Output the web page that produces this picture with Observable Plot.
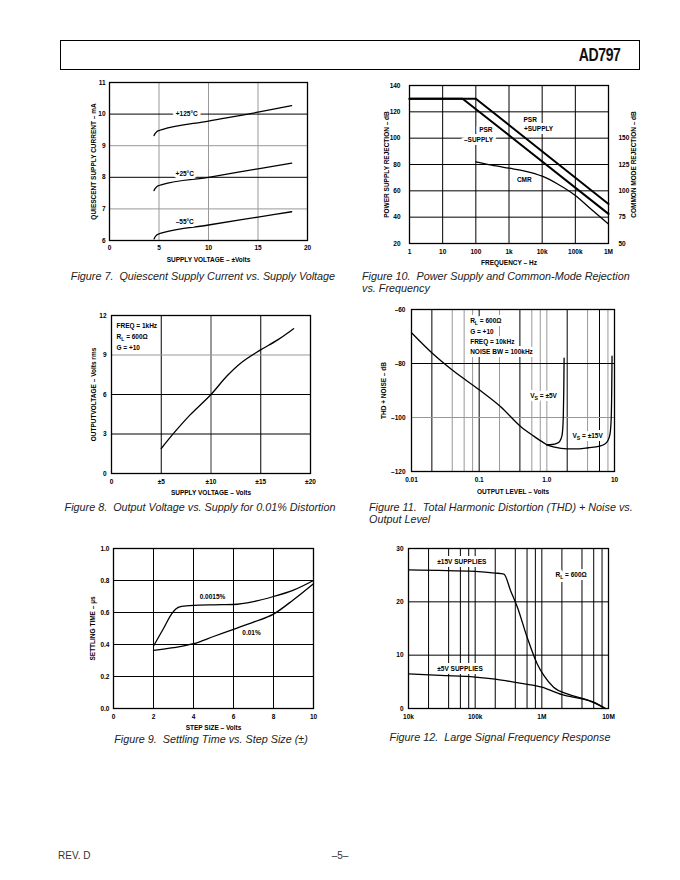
<!DOCTYPE html>
<html>
<head>
<meta charset="utf-8">
<script src="https://cdn.jsdelivr.net/npm/d3@7"></script>
<script src="https://cdn.jsdelivr.net/npm/@observablehq/plot@0.6"></script>
<style>
  html, body { margin: 0; padding: 0; background: #fff; }
  #page { position: relative; width: 680px; height: 880px; overflow: hidden; background: #fff;
          font-family: 'Liberation Sans', Arial, Helvetica, sans-serif; color: #111; }
  .cap { position: absolute; font-style: italic; font-size: 10.8px; line-height: 12px; color: #222; white-space: nowrap; }
  .hdr { position: absolute; left: 60px; top: 40px; width: 580px; height: 30px; box-sizing: border-box; border: 1.3px solid #000; }
  .hdr span { position: absolute; right: 18px; top: 4px; font-family: 'Liberation Sans', Arial, sans-serif;
              font-weight: bold; font-size: 18px; letter-spacing: -0.5px; transform: scaleX(0.78); transform-origin: right center; }
  .foot { position: absolute; top: 850px; font-size: 10px; color: #333; }
</style>
</head>
<body>
<div id="page">
  <div class="hdr"><span>AD797</span></div>
</div>
<script>
// ---------------- DATA ----------------
// Figure 7: Quiescent supply current vs supply voltage
const f7XTicks = [0, 5, 10, 15, 20];
const f7YTicks = [6, 7, 8, 9, 10, 11];
const f7Volts = [4.5, 4.6, 4.8, 5.0, 5.3, 10, 15, 18.4];
const f7Hot = [9.32, 9.38, 9.45, 9.48, 9.51, 9.78, 10.06, 10.27];
const f7Room = [7.58, 7.64, 7.71, 7.74, 7.77, 8.0, 8.27, 8.45];
const f7Cold = [6.05, 6.11, 6.18, 6.21, 6.24, 6.49, 6.74, 6.91];
const f7Labels = ["+125°C", "+25°C", "–55°C"];

// Figure 10: PSR & CMR vs frequency
const f10XTicks = [1, 10, 100, 1e3, 1e4, 1e5, 1e6];
const f10XLabels = ["1", "10", "100", "1k", "10k", "100k", "1M"];
const f10YTicks = [20, 40, 60, 80, 100, 120, 140];
const f10CmrTicks = [50, 75, 100, 125, 150];
const f10PsrPosF = [1, 100, 1e6];
const f10PsrPos = [130, 130, 50];
const f10PsrNegF = [1, 40, 1e6];
const f10PsrNeg = [130, 130, 42.5];
const f10CmrF = [100, 300, 1e3, 3e3, 1e4, 3e4, 1e5, 3e5, 1e6];
const f10Cmr = [127.5, 124.4, 121.5, 118.8, 113.9, 106.3, 95.6, 82.5, 68.4];

// Figure 8: Output voltage vs supply for 0.01% distortion
const f8XTicks = [0, 5, 10, 15, 20];
const f8XLabels = ["0", "±5", "±10", "±15", "±20"];
const f8YTicks = [0, 3, 6, 9, 12];
const f8Supply = [5, 6.3, 7.9, 10, 11.6, 13.1, 14.9, 16.7, 18.3];
const f8Vout = [1.9, 3.1, 4.45, 6.0, 7.4, 8.45, 9.35, 10.15, 11.0];
const f8Notes = ["FREQ = 1kHz", "R_L = 600Ω", "G = +10"];

// Figure 11: THD + noise vs output level
const f11XTicks = [0.01, 0.1, 1, 10];
const f11XLabels = ["0.01", "0.1", "1.0", "10"];
const f11YTicks = [-120, -100, -80, -60];
const f11YLabels = ["–120", "–100", "–80", "–60"];
const f11CommonV = [0.01, 0.0207, 0.0423, 0.1, 0.206, 0.418, 0.64, 1.0];
const f11CommonDb = [-68.6, -76.4, -82.9, -89.7, -95.9, -103.5, -106.9, -110.1];
const f11LowV = [1.0, 1.2, 1.4, 1.55, 1.68, 1.75, 1.78, 1.8];
const f11LowDb = [-110.1, -110.0, -109.6, -108.8, -106.5, -100, -90, -78];
const f11HighV = [1.0, 1.3, 2.0, 3.0, 4.1, 6.0, 7.2, 8.0, 8.6, 8.95, 9.1, 9.2];
const f11HighDb = [-110.1, -111.0, -111.6, -111.6, -111.2, -110.6, -109.8, -108.5, -106, -100, -90, -77.3];
const f11Notes = ["R_L = 600Ω", "G = +10", "FREQ = 10kHz", "NOISE BW = 100kHz"];

// Figure 9: Settling time vs step size
const f9XTicks = [0, 2, 4, 6, 8, 10];
const f9YTicks = [0, 0.2, 0.4, 0.6, 0.8, 1.0];
const f9YLabels = ["0.0", "0.2", "0.4", "0.6", "0.8", "1.0"];
const f9StepA = [2.0, 2.5, 2.9, 3.1, 3.4, 4, 5, 6, 7, 8, 9, 10];
const f9TimeA = [0.39, 0.50, 0.59, 0.62, 0.638, 0.645, 0.648, 0.65, 0.668, 0.70, 0.74, 0.80];
const f9StepB = [2, 3, 4, 5, 6, 7, 8, 9, 10];
const f9TimeB = [0.363, 0.38, 0.405, 0.45, 0.495, 0.54, 0.59, 0.68, 0.78];

// Figure 12: Large signal frequency response
const f12XTicks = [1e4, 1e5, 1e6, 1e7];
const f12XLabels = ["10k", "100k", "1M", "10M"];
const f12YTicks = [0, 10, 20, 30];
const f12Grid = [2e4, 4e4, 6e4, 8e4, 1e5, 2e5, 4e5, 6e5, 8e5, 1e6, 2e6, 4e6, 6e6, 8e6];
const f12HiF = [1e4, 1e5, 2e5, 2.7e5, 3.4e5, 4.3e5, 6e5, 8.5e5, 1.07e6, 1.5e6, 2.4e6, 4.8e6, 9e6];
const f12HiV = [26.0, 25.7, 25.4, 25.2, 22.1, 19.0, 13.4, 8.4, 6.2, 4.0, 2.75, 1.6, 0];
const f12LoF = [1e4, 3e4, 1e5, 2e5, 4e5, 1e6, 2e6, 4e6, 6e6, 9e6];
const f12LoV = [6.5, 6.2, 5.9, 5.5, 4.9, 4.0, 2.6, 1.8, 1.2, 0];

// ---------------- HELPERS ----------------
const page = document.getElementById("page");
const FONT = "'Liberation Sans', Arial, Helvetica, sans-serif";
const zip = (xs, ys) => xs.map((x, i) => ({x, y: ys[i]}));
const fmt = (ticks, labels) => { const m = new Map(ticks.map((t, i) => [t, labels[i]])); return d => m.get(d); };

function subs(svg) {
  const NS = "http://www.w3.org/2000/svg";
  svg.querySelectorAll("text").forEach(t => {
    if (t.children.length === 0 && t.textContent.includes("_")) {
      const m = t.textContent.match(/^(.*?)_(\w)(.*)$/);
      if (!m) return;
      t.textContent = m[1];
      const s = document.createElementNS(NS, "tspan");
      s.setAttribute("dy", "2"); s.setAttribute("font-size", "0.8em"); s.textContent = m[2];
      const r = document.createElementNS(NS, "tspan");
      r.setAttribute("dy", "-2"); r.textContent = m[3];
      t.appendChild(s); t.appendChild(r);
    }
  });
}

function mk(frame, x, y, marks) {
  const [x0, y0, x1, y1] = frame;
  const mt = 8, mr = 40, mb = 34, ml = 44;
  const svg = Plot.plot({
    width: x1 - x0 + ml + mr, height: y1 - y0 + mt + mb,
    marginTop: mt, marginRight: mr, marginBottom: mb, marginLeft: ml,
    x, y,
    style: {fontFamily: FONT, fontSize: "6.5px", fontWeight: "bold", background: "none", color: "#000", overflow: "visible"},
    marks
  });
  svg.style.position = "absolute";
  svg.style.left = (x0 - ml) + "px";
  svg.style.top = (y0 - mt) + "px";
  subs(svg);
  page.appendChild(svg);
}
const ylab = (t, dx) => Plot.text([t], {text: d => d, frameAnchor: "left", rotate: -90, dx, textAnchor: "middle", lineAnchor: "middle", fontSize: 6.5, fill: "#000"});
const yrlab = (t, dx) => Plot.text([t], {text: d => d, frameAnchor: "right", rotate: -90, dx, textAnchor: "middle", lineAnchor: "middle", fontSize: 6.5, fill: "#000"});
const xlab = (t, dy) => Plot.text([t], {text: d => d, frameAnchor: "bottom", dy, textAnchor: "middle", lineAnchor: "middle", fontSize: 6.5, fill: "#000"});
const ax = (ticks, o = {}) => Plot.axisX(ticks, {tickSize: 0, tickPadding: 5, label: null, fill: "#000", ...o});
const ay = (ticks, o = {}) => Plot.axisY(ticks, {tickSize: 0, tickPadding: 5, label: null, fill: "#000", ...o});
const gx = (v, stroke = "#000", w = 1) => Plot.ruleX(v, {stroke, strokeWidth: w});
const gy = (v, stroke = "#000", w = 1) => Plot.ruleY(v, {stroke, strokeWidth: w});
const curve = (d, w = 1.3, c = "monotone-x") => Plot.line(d, {x: "x", y: "y", stroke: "#000", strokeWidth: w, curve: c});
const frameM = Plot.frame({stroke: "#000", strokeWidth: 1.3});
// white knock-out behind a label, then the label itself on top
const note = (texts, o) => [
  Plot.text(texts, {text: d => d, fontSize: 6.5, ...o, fill: "white", stroke: "white", strokeWidth: 6}),
  Plot.text(texts, {text: d => d, fontSize: 6.5, ...o, fill: "#000"})
];

// ---------------- FIGURE 7 ----------------
mk([109, 82, 307, 240],
  {domain: [0, 20]}, {domain: [6, 11]},
  [
    gx([5, 10, 15], "#999"), gy([7, 9], "#999"), gy([8, 10], "#000"),
    curve(zip(f7Volts, f7Hot)), curve(zip(f7Volts, f7Room)), curve(zip(f7Volts, f7Cold)),
    note(f7Labels, {x: [7.8, 7.6, 7.6], y: [10.0, 8.1, 6.58]}),
    frameM,
    ax(f7XTicks, {tickPadding: 5}), ay(f7YTicks, {tickPadding: 4}),
    xlab("SUPPLY VOLTAGE – ±Volts", 19), ylab("QUIESCENT SUPPLY CURRENT – mA", -16)
  ]);

// ---------------- FIGURE 10 ----------------
const toLeft = v => (v - 25) / 1.25;
mk([409, 85, 608, 243],
  {type: "log", domain: [1, 1e6]}, {domain: [20, 140]},
  [
    gx([10, 100, 1e3, 1e4, 1e5]), gy([40, 60, 80, 100, 120]),
    note(["PSR", "–SUPPLY"], {x: [200, 120], y: [106.1, 98.7]}),
    note(["PSR", "+SUPPLY"], {x: [4.35e3, 7.8e3], y: [113.7, 106.8]}),
    Plot.line(zip(f10PsrPosF, f10PsrPos), {x: "x", y: "y", stroke: "#000", strokeWidth: 2}),
    Plot.line(zip(f10PsrNegF, f10PsrNeg), {x: "x", y: "y", stroke: "#000", strokeWidth: 2}),
    Plot.line(f10CmrF.map((f, i) => ({x: f, y: toLeft(f10Cmr[i])})), {x: "x", y: "y", stroke: "#000", strokeWidth: 1.3, curve: "monotone-x"}),
    note(["CMR"], {x: [2.9e3], y: [68.4]}),
    frameM,
    ax(f10XTicks, {tickFormat: fmt(f10XTicks, f10XLabels), tickPadding: 6}),
    ay(f10YTicks, {tickPadding: 9}),
    ay(f10CmrTicks.map(toLeft), {anchor: "right", tickPadding: 10, tickFormat: d => String(Math.round(d * 1.25 + 25))}),
    xlab("FREQUENCY – Hz", 19), ylab("POWER SUPPLY REJECTION – dB", -23), yrlab("COMMON MODE REJECTION – dB", 25)
  ]);

// ---------------- FIGURE 8 ----------------
mk([111, 315, 310, 473],
  {domain: [0, 20]}, {domain: [0, 12]},
  [
    gx([5, 15]), gx([10], "#999", 2), gy([3, 6]), gy([9], "#999"),
    curve(zip(f8Supply, f8Vout), 1.3, "catmull-rom"),
    Plot.text(f8Notes, {x: [0.5, 0.5, 0.5], y: [11.24, 10.38, 9.55], text: d => d, textAnchor: "start", fontSize: 6.5, fill: "#000"}),
    frameM,
    ax(f8XTicks, {tickFormat: fmt(f8XTicks, f8XLabels), tickPadding: 6}), ay(f8YTicks, {tickPadding: 5}),
    xlab("SUPPLY VOLTAGE – Volts", 19), ylab("OUTPUTVOLTAGE – Volts rms", -18)
  ]);

// ---------------- FIGURE 11 ----------------
mk([411, 309, 614, 471],
  {type: "log", domain: [0.01, 10]}, {domain: [-120, -60]},
  [
    gx([0.04, 0.06, 0.08, 0.2, 0.6, 0.8, 1, 4, 8], "#999"), gx([0.02, 0.1, 0.4, 2, 6]),
    gy([-100], "#999"), gy([-80]),
    note(f11Notes, {x: [0.0736, 0.0736, 0.0736, 0.0736], y: [-64.4, -68.4, -72.1, -75.6], textAnchor: "start"}),
    curve(zip(f11CommonV, f11CommonDb)), curve(zip(f11LowV, f11LowDb)), curve(zip(f11HighV, f11HighDb)),
    note(["V_S = ±5V", "V_S = ±15V"], {x: [0.567, 2.39], y: [-91.9, -106.9], textAnchor: "start"}),
    frameM,
    ax(f11XTicks, {tickFormat: fmt(f11XTicks, f11XLabels), tickPadding: 6}),
    ay(f11YTicks, {tickFormat: fmt(f11YTicks, f11YLabels), tickPadding: 6}),
    xlab("OUTPUT LEVEL – Volts", 20), ylab("THD + NOISE – dB", -28)
  ]);

// ---------------- FIGURE 9 ----------------
mk([113, 548, 313, 708],
  {domain: [0, 10]}, {domain: [0, 1]},
  [
    gx([2, 4, 6, 8]), gy([0.2, 0.4, 0.6, 0.8]),
    curve(zip(f9StepA, f9TimeA)), curve(zip(f9StepB, f9TimeB)),
    Plot.text(["0.0015%", "0.01%"], {x: [4.95, 6.9], y: [0.695, 0.47], text: d => d, fontSize: 6.5, fill: "#000"}),
    frameM,
    ax(f9XTicks, {tickPadding: 6}), ay(f9YTicks, {tickFormat: fmt(f9YTicks, f9YLabels), tickPadding: 4}),
    xlab("STEP SIZE – Volts", 19), ylab("SETTLING TIME – µs", -21)
  ]);

// ---------------- FIGURE 12 ----------------
mk([408, 548, 608, 708],
  {type: "log", domain: [1e4, 1e7]}, {domain: [0, 30]},
  [
    gx(f12Grid), gy([10, 20]),
    note(["±15V SUPPLIES", "±5V SUPPLIES", "R_L = 600Ω"], {x: [2.7e4, 2.7e4, 1.6e6], y: [27.4, 7.5, 25.1], textAnchor: "start"}),
    curve(zip(f12HiF, f12HiV)), curve(zip(f12LoF, f12LoV)),
    frameM,
    ax(f12XTicks, {tickFormat: fmt(f12XTicks, f12XLabels), tickPadding: 6}), ay(f12YTicks, {tickPadding: 5})
  ]);

// ---------------- CAPTIONS / FOOTER ----------------
function cap(html, left, top, center) {
  const d = document.createElement("div");
  d.className = "cap";
  d.innerHTML = html;
  d.style.top = top + "px";
  if (center) { d.style.left = (left - 170) + "px"; d.style.width = "340px"; d.style.textAlign = "center"; }
  else d.style.left = left + "px";
  page.appendChild(d);
}
cap("Figure 7.&nbsp; Quiescent Supply Current vs. Supply Voltage", 203, 270, true);
cap("Figure 10.&nbsp; Power Supply and Common-Mode Rejection<br>vs. Frequency", 362, 270, false);
cap("Figure 8.&nbsp; Output Voltage vs. Supply for 0.01% Distortion", 200, 501, true);
cap("Figure 11.&nbsp; Total Harmonic Distortion (THD) + Noise vs.<br>Output Level", 369, 501, false);
cap("Figure 9.&nbsp; Settling Time vs. Step Size (±)", 211, 733, true);
cap("Figure 12.&nbsp; Large Signal Frequency Response", 500, 731, true);

const f1 = document.createElement("div"); f1.className = "foot"; f1.style.left = "58px"; f1.textContent = "REV. D"; page.appendChild(f1);
const f2 = document.createElement("div"); f2.className = "foot"; f2.style.left = "320px"; f2.style.width = "40px"; f2.style.textAlign = "center"; f2.textContent = "–5–"; page.appendChild(f2);
</script>
</body>
</html>
